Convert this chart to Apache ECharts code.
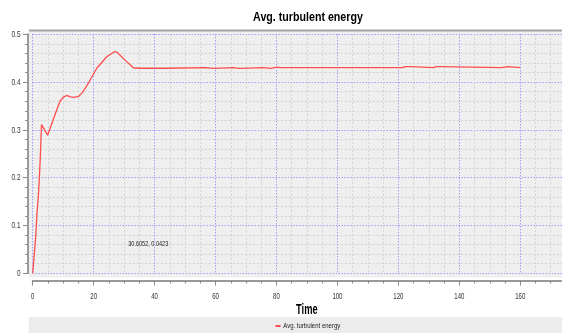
<!DOCTYPE html>
<html>
<head>
<meta charset="utf-8">
<script src="https://cdn.jsdelivr.net/npm/echarts@6/dist/echarts.min.js"></script>
<style>
  html, body { margin: 0; padding: 0; background: #ffffff; }
  #chart { width: 562px; height: 333px; }
</style>
</head>
<body>
<div id="chart"></div>
<script>
// Simulation time (s) and the averaged turbulent kinetic energy sampled along it
const timeSteps = [0, 0.45, 1.0, 1.4, 1.85, 2.2, 2.5, 2.7, 2.9, 4.9, 7.9, 9.0, 10.0, 11.1, 12.4, 13.5, 15.0, 16.3, 18.3, 21.0, 24.3, 26.8, 27.8, 30.3, 33.0, 35.2, 40.0, 43.8, 44.2, 56.5, 57.0, 59.5, 60.0, 65.8, 66.2, 67.8, 68.2, 75.6, 76.0, 78.2, 78.6, 80.2, 81.0, 82.0, 100.0, 121.5, 122.2, 124.0, 124.6, 131.6, 132.3, 134.0, 134.6, 153.8, 154.4, 156.0, 156.6, 160.0];
const turbulentEnergy = [0, 0.035, 0.077, 0.125, 0.160, 0.202, 0.244, 0.279, 0.311, 0.289, 0.342, 0.3605, 0.368, 0.372, 0.369, 0.368, 0.370, 0.378, 0.398, 0.429, 0.453, 0.4636, 0.462, 0.446, 0.430, 0.429, 0.429, 0.429, 0.4302, 0.4302, 0.4288, 0.4288, 0.4302, 0.4302, 0.4288, 0.4288, 0.4302, 0.4302, 0.4288, 0.4288, 0.4302, 0.4312, 0.4302, 0.4302, 0.4302, 0.4302, 0.4325, 0.4325, 0.4302, 0.4302, 0.4322, 0.4322, 0.4302, 0.4302, 0.4322, 0.4322, 0.4302, 0.4302];

// Tick labels along each axis
const xTickLabels = [0, 20, 40, 60, 80, 100, 120, 140, 160];
const yTickLabels = ['0', '0.1', '0.2', '0.3', '0.4', '0.5'];

const seriesName = 'Avg. turbulent energy';
const chartTitle = 'Avg. turbulent energy';
const xAxisTitle = 'Time';
const cursorReadout = '30.6052, 0.0423';

const points = timeSteps.map((t, i) => [t, turbulentEnergy[i]]);

const sans = 'Liberation Sans, Arial, sans-serif';
const lineColor = '#ff4d4d';
const chart = echarts.init(document.getElementById('chart'), null, { renderer: 'canvas' });

chart.setOption({
  animation: false,
  backgroundColor: '#ffffff',
  // legend swatch only; its caption is drawn as condensed text below
  legend: {
    data: [seriesName],
    left: 275.5,
    top: 325,
    padding: 0,
    icon: 'rect',
    itemWidth: 5,
    itemHeight: 2,
    formatter: () => '',
    textStyle: { fontSize: 2, lineHeight: 2 },
    selectedMode: false
  },
  grid: {
    left: 32.7,
    top: 34.3,
    width: 548.5,
    height: 239,
    containLabel: false,
    outerBoundsMode: 'none'
  },
  xAxis: {
    type: 'value',
    min: 0,
    max: 180,
    interval: 20,
    offset: 7.2,
    axisLine: { show: true, onZero: false, lineStyle: { color: '#9a9a9a', width: 2 } },
    axisTick: { show: true, length: 5, lineStyle: { color: '#8a8a8a' } },
    minorTick: { show: true, splitNumber: 4, length: 3, lineStyle: { color: '#8a8a8a' } },
    axisLabel: { show: false },
    splitLine: { show: true, lineStyle: { color: '#7a7aff', width: 1, type: [1, 2] } },
    minorSplitLine: { show: true, lineStyle: { color: '#d2d2d2', width: 1, type: [2, 2] } }
  },
  yAxis: {
    type: 'value',
    min: 0,
    max: 0.5,
    interval: 0.1,
    offset: 4.7,
    axisLine: { show: true, onZero: false, lineStyle: { color: '#9a9a9a', width: 2 } },
    axisTick: { show: true, length: 5, lineStyle: { color: '#8a8a8a' } },
    minorTick: { show: true, splitNumber: 5, length: 3, lineStyle: { color: '#8a8a8a' } },
    axisLabel: { show: false },
    splitLine: { show: true, lineStyle: { color: '#7a7aff', width: 1, type: [1, 2] } },
    minorSplitLine: { show: true, lineStyle: { color: '#d2d2d2', width: 1, type: [2, 2] } }
  },
  series: [{
    name: seriesName,
    type: 'line',
    data: points,
    showSymbol: false,
    symbol: 'none',
    clip: false,
    color: lineColor,
    lineStyle: { color: lineColor, width: 1.3 }
  }]
});

// Condensed text: drawn with a horizontal squeeze around its anchor point
function squeezedText(text, x, y, opts) {
  return {
    type: 'text',
    silent: true,
    z: 10,
    x: x,
    y: y,
    scaleX: opts.squeeze,
    scaleY: 1,
    style: {
      x: 0,
      y: 0,
      text: text,
      fontFamily: sans,
      fontSize: opts.size,
      fontWeight: opts.bold ? 'bold' : 'normal',
      fill: opts.color || '#333',
      align: opts.align || 'center',
      verticalAlign: 'middle'
    }
  };
}

const graphics = [
  // plot backdrop with its raised top edge
  { type: 'rect', z: -10, silent: true, shape: { x: 29, y: 30.5, width: 533, height: 247 }, style: { fill: '#efefef' } },
  { type: 'line', z: -9, silent: true, shape: { x1: 29, y1: 30.5, x2: 562, y2: 30.5 }, style: { stroke: '#a4a4a4', lineWidth: 2 } },
  // legend strip
  { type: 'rect', z: -10, silent: true, shape: { x: 28.7, y: 317, width: 534, height: 16 }, style: { fill: '#ececec' } },
  squeezedText(chartTitle, 308, 17.5, { size: 13, bold: true, squeeze: 0.82, color: '#000' }),
  squeezedText(xAxisTitle, 306.8, 310, { size: 14.5, bold: true, squeeze: 0.64, color: '#000' }),
  squeezedText(seriesName, 283.3, 326.2, { size: 7.5, squeeze: 0.8, color: '#222', align: 'left' }),
  squeezedText(cursorReadout, 128.3, 243.5, { size: 8, squeeze: 0.69, color: '#222', align: 'left' })
];

xTickLabels.forEach((v) => {
  const px = chart.convertToPixel({ xAxisIndex: 0 }, v);
  graphics.push(squeezedText(String(v), px, 296, { size: 9.3, squeeze: 0.65 }));
});
yTickLabels.forEach((label) => {
  const py = chart.convertToPixel({ yAxisIndex: 0 }, parseFloat(label));
  graphics.push(squeezedText(label, 20.5, py, { size: 9.5, squeeze: 0.68, align: 'right' }));
});

chart.setOption({ graphic: graphics });
</script>
</body>
</html>
